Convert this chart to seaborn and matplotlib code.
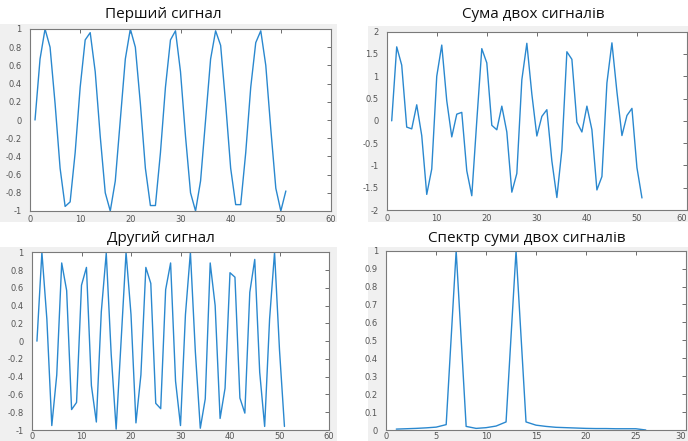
import numpy as np
import matplotlib
matplotlib.use("Agg")
import matplotlib.pyplot as plt
from matplotlib.patches import Rectangle
import seaborn as sns

# значення (відліки 1..51)
n = list(range(1, 52))
signal_1 = [0.0, 0.67, 1.0, 0.8, 0.18, -0.53, -0.95, -0.9, -0.36, 0.36,
            0.88, 0.96, 0.53, -0.18, -0.8, -1.0, -0.67, 0.0, 0.67, 1.0,
            0.8, 0.18, -0.53, -0.94, -0.94, -0.36, 0.36, 0.88, 0.98, 0.53,
            -0.18, -0.8, -1.0, -0.67, 0.0, 0.67, 0.98, 0.82, 0.18, -0.53,
            -0.93, -0.93, -0.36, 0.36, 0.85, 0.98, 0.6, -0.1, -0.75, -1.0,
            -0.78]
signal_2 = [0.0, 1.0, 0.25, -0.95, -0.38, 0.88, 0.57, -0.77, -0.69, 0.63,
            0.83, -0.5, -0.91, 0.33, 0.99, -0.15, -0.99, 0.0, 1.0, 0.3,
            -0.92, -0.38, 0.83, 0.65, -0.7, -0.76, 0.58, 0.88, -0.45, -0.95,
            0.3, 1.0, -0.12, -0.98, -0.65, 0.88, 0.4, -0.87, -0.53, 0.77,
            0.72, -0.64, -0.81, 0.55, 0.92, -0.35, -0.96, 0.25, 1.0, -0.1,
            -0.96]
signal_sum = [0.0, 1.66, 1.25, -0.14, -0.18, 0.36, -0.33, -1.65, -1.08, 1.0,
              1.7, 0.45, -0.36, 0.15, 0.19, -1.12, -1.68, 0.0, 1.62, 1.3,
              -0.1, -0.2, 0.33, -0.25, -1.6, -1.18, 0.92, 1.74, 0.6, -0.34,
              0.1, 0.25, -0.9, -1.72, -0.65, 1.55, 1.38, -0.03, -0.25, 0.33,
              -0.2, -1.55, -1.25, 0.85, 1.75, 0.65, -0.33, 0.12, 0.28, -1.05,
              -1.73]
k = list(range(1, 27))
spectrum = [0.005, 0.007, 0.009, 0.012, 0.016, 0.03, 1.0, 0.02, 0.009, 0.013,
            0.022, 0.045, 1.0, 0.045, 0.027, 0.02, 0.015, 0.013, 0.011, 0.009,
            0.008, 0.008, 0.007, 0.007, 0.007, 0.0]

titles = ["Перший сигнал", "Сума двох сигналів", "Другий сигнал",
          "Спектр суми двох сигналів"]

sns.set_style("white")
plt.rcParams["font.family"] = ["DejaVu Sans"]
plt.rcParams["axes.unicode_minus"] = False

W, H = 688, 441
fig = plt.figure(figsize=(W / 100, H / 100), dpi=100)
fig.patch.set_facecolor("white")

# сірі підкладки (скріншоти вікон MATLAB)
for x0, y0, x1, y1 in [(0, 24, 337, 222), (368, 26, 688, 222),
                       (0, 247, 337, 441), (368, 247, 688, 441)]:
    fig.patches.append(Rectangle((x0 / W, 1 - y1 / H), (x1 - x0) / W, (y1 - y0) / H,
                                 transform=fig.transFigure, facecolor="#f0f0f0",
                                 edgecolor="none", zorder=-10))


def add_ax(l, r, t, b):
    return fig.add_axes([l / W, 1 - b / H, (r - l) / W, (b - t) / H])


def style(ax, xlim, xticks, ylim, yticks, xpad=3):
    ax.set_facecolor("white")
    ax.set_xlim(*xlim)
    ax.set_ylim(*ylim)
    ax.set_xticks(xticks)
    ax.set_yticks(yticks)
    ax.set_xticklabels(["%g" % v for v in xticks])
    ax.set_yticklabels(["%g" % v for v in yticks])
    ax.tick_params(direction="in", length=3, width=0.6, color="#555555",
                   labelsize=6, labelcolor="#555555", top=True, right=True)
    ax.tick_params(axis="x", pad=xpad)
    ax.tick_params(axis="y", pad=6)
    for s in ax.spines.values():
        s.set_color("#7a7a7a")
        s.set_linewidth(0.8)
        s.set_visible(True)
    ax.set_xlabel("")
    ax.set_ylabel("")


line_kw = dict(color="#2a88cf", linewidth=1.0, errorbar=None)

ax1 = add_ax(30, 331, 29, 211)
sns.lineplot(x=n, y=signal_1, ax=ax1, **line_kw)
style(ax1, (0, 60), list(range(0, 61, 10)), (-1, 1),
      list(np.round(np.linspace(-1, 1, 11), 1)))

ax2 = add_ax(386.7, 687, 31.7, 210)
sns.lineplot(x=n, y=signal_sum, ax=ax2, **line_kw)
style(ax2, (0, 60), list(range(0, 61, 10)), (-2, 2),
      list(np.round(np.linspace(-2, 2, 9), 1)))

ax3 = add_ax(32, 329, 252.3, 430)
sns.lineplot(x=n, y=signal_2, ax=ax3, **line_kw)
style(ax3, (0, 60), list(range(0, 61, 10)), (-1, 1),
      list(np.round(np.linspace(-1, 1, 11), 1)), xpad=1.5)

ax4 = add_ax(386.3, 685.7, 250.7, 430)
sns.lineplot(x=k, y=spectrum, ax=ax4, **line_kw)
style(ax4, (0, 30), list(range(0, 31, 5)), (0, 1),
      list(np.round(np.linspace(0, 1, 11), 1)), xpad=1.5)

# крайні праві мітки притиснути до краю, щоб не обрізались
for ax in (ax2, ax4):
    ax.get_xticklabels()[-1].set_horizontalalignment("right")

title_pos = [(163, 15), (533, 15), (161, 239), (527, 238)]
for (tx, ty), t in zip(title_pos, titles):
    fig.text(tx / W, 1 - ty / H, t, ha="center", va="center", fontsize=11,
             family=["Open Sans", "DejaVu Sans"], color="#111111")

fig.savefig("out.png", dpi=100)
